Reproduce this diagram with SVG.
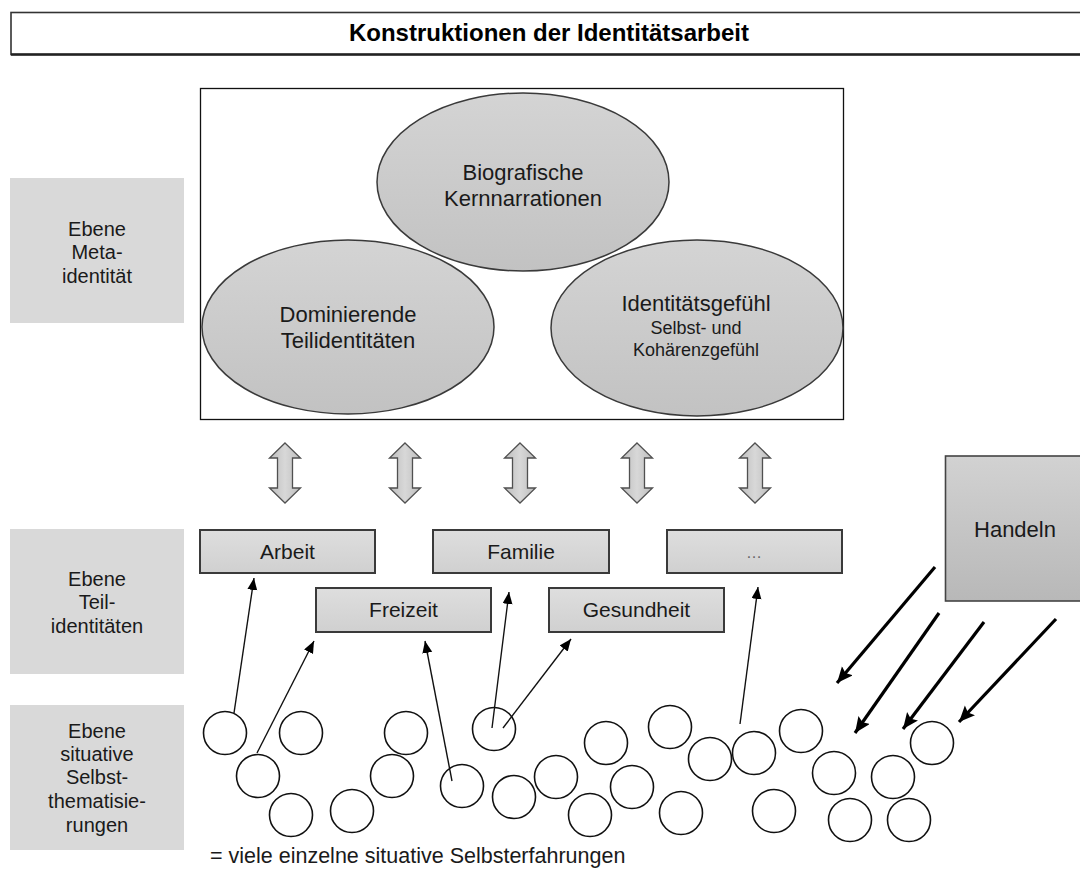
<svg xmlns="http://www.w3.org/2000/svg" xmlns:xlink="http://www.w3.org/1999/xlink" width="1080" height="871" viewBox="0 0 1080 871">
<style>
text{font-family:"Liberation Sans",Arial,sans-serif;fill:#1a1a1a;text-anchor:middle}
.title{font-size:24px;font-weight:bold;fill:#000}
.lbl{font-size:20px}
.bx{font-size:21px}
.big{font-size:22px}
.sm{font-size:18px}
.side{fill:#d9d9d9;stroke:none}
.ell{fill:url(#gEll);stroke:#3a3a3a;stroke-width:1.5}
.box{fill:url(#gBox);stroke:#3a3a3a;stroke-width:2}
.circ{fill:#fff;stroke:#111;stroke-width:1.6}
.thin{stroke:#111;stroke-width:1.4;fill:none;marker-end:url(#mThin)}
.thick{stroke:#000;stroke-width:3.2;fill:none;marker-end:url(#mThick)}
.dbl{fill:url(#gArr);stroke:#505050;stroke-width:1.3}
</style>
<defs>
<linearGradient id="gEll" x1="0" y1="0" x2="0" y2="1"><stop offset="0" stop-color="#d4d4d4"/><stop offset="1" stop-color="#c2c2c2"/></linearGradient>
<linearGradient id="gBox" x1="0" y1="0" x2="0" y2="1"><stop offset="0" stop-color="#dedede"/><stop offset="1" stop-color="#d0d0d0"/></linearGradient>
<linearGradient id="gHand" x1="0" y1="0" x2="0" y2="1"><stop offset="0" stop-color="#d2d2d2"/><stop offset="1" stop-color="#b8b8b8"/></linearGradient>
<linearGradient id="gArr" x1="0" y1="0" x2="1" y2="0"><stop offset="0" stop-color="#bdbdbd"/><stop offset="0.5" stop-color="#d8d8d8"/><stop offset="1" stop-color="#bdbdbd"/></linearGradient>
<marker id="mThin" markerUnits="userSpaceOnUse" markerWidth="14" markerHeight="12" refX="12" refY="5" orient="auto"><path d="M0,0 L12,5 L0,10 Z" fill="#000"/></marker>
<marker id="mThick" markerUnits="userSpaceOnUse" markerWidth="18" markerHeight="16" refX="16" refY="7" orient="auto"><path d="M0,0 L16,7 L0,14 L3,7 Z" fill="#000"/></marker>
<path id="dblArrow" d="M0,443 L15.5,458 L7.5,458 L7.5,488 L15.5,488 L0,503 L-15.5,488 L-7.5,488 L-7.5,458 L-15.5,458 Z"/>
</defs>

<g id="title">
<rect x="11" y="12.5" width="1080" height="42" fill="#fff" stroke="#333" stroke-width="1.6"/>
<line x1="11" y1="54.5" x2="1080" y2="54.5" stroke="#222" stroke-width="2.4"/>
<text class="title" x="549" y="41">Konstruktionen der Identitätsarbeit</text>
</g>

<g id="label-meta">
<rect class="side" x="10" y="178" width="174" height="145"/>
<text class="lbl" x="97" y="236">Ebene</text>
<text class="lbl" x="97" y="259">Meta-</text>
<text class="lbl" x="97" y="283">identität</text>
</g>
<g id="label-teil">
<rect class="side" x="10" y="529" width="174" height="145"/>
<text class="lbl" x="97" y="586">Ebene</text>
<text class="lbl" x="97" y="609">Teil-</text>
<text class="lbl" x="97" y="633">identitäten</text>
</g>
<g id="label-situativ">
<rect class="side" x="10" y="705" width="174" height="145"/>
<text class="lbl" x="97" y="738">Ebene</text>
<text class="lbl" x="97" y="761">situative</text>
<text class="lbl" x="97" y="784">Selbst-</text>
<text class="lbl" x="97" y="808">thematisie-</text>
<text class="lbl" x="97" y="832">rungen</text>
</g>

<g id="meta-box">
<rect x="200.5" y="88.5" width="643" height="331" fill="#fff" stroke="#111" stroke-width="1.3"/>
</g>
<g id="kernnarrationen">
<ellipse class="ell" cx="523" cy="182" rx="146" ry="89"/>
<text class="big" x="523" y="180">Biografische</text>
<text class="big" x="523" y="206">Kernnarrationen</text>
</g>
<g id="dominierende">
<ellipse class="ell" cx="348" cy="327" rx="146" ry="87"/>
<text class="big" x="348" y="322">Dominierende</text>
<text class="big" x="348" y="348">Teilidentitäten</text>
</g>
<g id="identitaetsgefuehl">
<ellipse class="ell" cx="697" cy="328" rx="146" ry="88"/>
<text class="big" x="696" y="311">Identitätsgefühl</text>
<text class="sm" x="696" y="334">Selbst- und</text>
<text class="sm" x="696" y="356">Kohärenzgefühl</text>
</g>

<g id="double-arrows">
<use xlink:href="#dblArrow" class="dbl" x="285"/>
<use xlink:href="#dblArrow" class="dbl" x="405"/>
<use xlink:href="#dblArrow" class="dbl" x="520"/>
<use xlink:href="#dblArrow" class="dbl" x="637"/>
<use xlink:href="#dblArrow" class="dbl" x="755"/>
</g>

<g id="arbeit">
<rect class="box" x="200" y="530" width="175" height="43"/>
<text class="bx" x="287.5" y="559">Arbeit</text>
</g>
<g id="familie">
<rect class="box" x="433" y="530" width="176" height="43"/>
<text class="bx" x="521" y="559">Familie</text>
</g>
<g id="weitere">
<rect class="box" x="667" y="530" width="175" height="43"/>
<text x="754" y="558" style="font-size:16px;fill:#666">…</text>
</g>
<g id="freizeit">
<rect class="box" x="316" y="588" width="175" height="44"/>
<text class="bx" x="403.5" y="617">Freizeit</text>
</g>
<g id="gesundheit">
<rect class="box" x="549" y="588" width="175" height="44"/>
<text class="bx" x="636.5" y="617">Gesundheit</text>
</g>

<g id="handeln">
<rect x="945.5" y="456" width="150" height="145" fill="url(#gHand)" stroke="#444" stroke-width="1.6"/>
<text class="big" x="1015" y="537">Handeln</text>
</g>

<g id="circles">
<circle class="circ" cx="225" cy="733" r="21.5"/>
<circle class="circ" cx="301" cy="733" r="21.5"/>
<circle class="circ" cx="258" cy="776" r="21.5"/>
<circle class="circ" cx="291" cy="815" r="21.5"/>
<circle class="circ" cx="352" cy="811" r="21.5"/>
<circle class="circ" cx="406" cy="733" r="21.5"/>
<circle class="circ" cx="392" cy="776" r="21.5"/>
<circle class="circ" cx="462" cy="786" r="21.5"/>
<circle class="circ" cx="494" cy="729" r="21.5"/>
<circle class="circ" cx="514" cy="797" r="21.5"/>
<circle class="circ" cx="556" cy="777" r="21.5"/>
<circle class="circ" cx="606" cy="743" r="21.5"/>
<circle class="circ" cx="590" cy="815" r="21.5"/>
<circle class="circ" cx="632" cy="787" r="21.5"/>
<circle class="circ" cx="670" cy="727" r="21.5"/>
<circle class="circ" cx="710" cy="759" r="21.5"/>
<circle class="circ" cx="681" cy="813" r="21.5"/>
<circle class="circ" cx="754" cy="753" r="21.5"/>
<circle class="circ" cx="774" cy="811" r="21.5"/>
<circle class="circ" cx="801" cy="731" r="21.5"/>
<circle class="circ" cx="834" cy="773" r="21.5"/>
<circle class="circ" cx="850" cy="820" r="21.5"/>
<circle class="circ" cx="893" cy="777" r="21.5"/>
<circle class="circ" cx="909" cy="820" r="21.5"/>
<circle class="circ" cx="932" cy="743" r="21.5"/>
</g>

<g id="connectors">
<line class="thin" x1="234" y1="713" x2="254" y2="578"/>
<line class="thin" x1="257" y1="753" x2="314" y2="641"/>
<line class="thin" x1="452" y1="781" x2="425" y2="641"/>
<line class="thin" x1="492" y1="728" x2="509" y2="592"/>
<line class="thin" x1="503" y1="728" x2="571" y2="639"/>
<line class="thin" x1="740" y1="724" x2="758" y2="587"/>
<line class="thick" x1="935" y1="567" x2="837" y2="683"/>
<line class="thick" x1="939" y1="613" x2="855" y2="733"/>
<line class="thick" x1="984" y1="622" x2="903" y2="729"/>
<line class="thick" x1="1056" y1="619" x2="959" y2="722"/>
</g>

<g id="legend">
<text x="210" y="863" style="font-size:21.5px;text-anchor:start">= viele einzelne situative Selbsterfahrungen</text>
</g>
</svg>
